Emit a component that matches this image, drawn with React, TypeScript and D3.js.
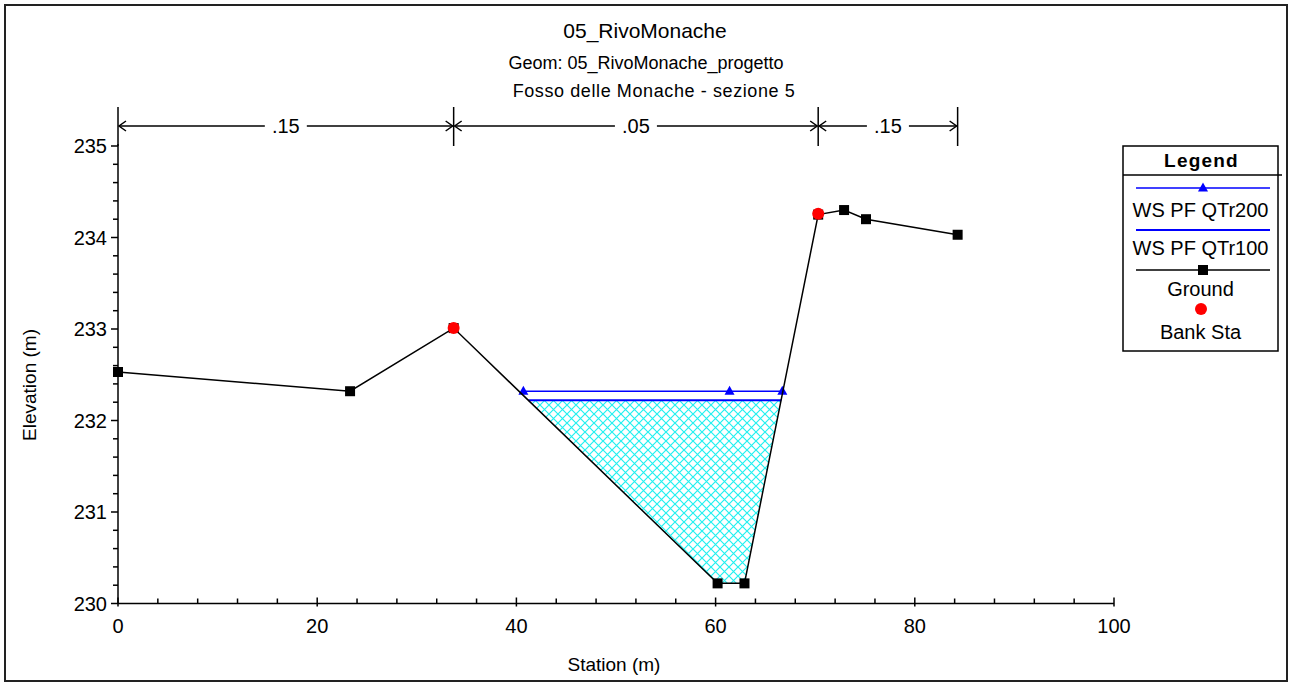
import React from "react";
import * as d3 from "d3";

const groundStation = [0, 23.3, 33.7, 60.2, 62.9, 70.3, 72.9, 75.1, 84.3];
const groundElev = [232.53, 232.32, 233.01, 230.22, 230.22, 234.25, 234.3, 234.2, 234.03];
const bankStation = [33.7, 70.3];
const bankElev = [233.01, 234.26];
const ws200Station = [40.7, 61.4, 66.7];
const ws200Elev = 232.32;
const ws100Station = [41.2, 66.6];
const ws100Elev = 232.22;
const nStations = [0, 33.7, 70.3, 84.3];
const nValues = [".15", ".05", ".15"];
const xTicks = [0, 20, 40, 60, 80, 100];
const yTicks = [230, 231, 232, 233, 234, 235];

const W = 1290;
const H = 682;
const FONT = "'Liberation Sans', Arial, sans-serif";

export default function App() {
  const x = d3.scaleLinear().domain([0, 100]).range([118, 1114]);
  const y = d3.scaleLinear().domain([230, 235]).range([603.5, 146]);

  const ground = groundStation.map((s, i) => [s, groundElev[i]] as [number, number]);
  const line = d3
    .line<[number, number]>()
    .x((d) => x(d[0]))
    .y((d) => y(d[1]));

  const fillPts: [number, number][] = [
    [ws100Station[0], ws100Elev],
    ...ground.filter((p) => p[0] > ws100Station[0] && p[0] < ws100Station[1]),
    [ws100Station[1], ws100Elev],
  ];

  const xMinor = d3.range(0, 100.001, 4).filter((v) => v % 20 !== 0);
  const yMinor = d3.range(230, 235.001, 0.2).filter((v) => Math.abs(v - Math.round(v)) > 0.01);

  const nY = 126;
  const sq = (cx: number, cy: number, k: string) => (
    <rect key={k} x={cx - 5} y={cy - 5} width={10} height={10} fill="#000" />
  );
  const tri = (cx: number, cy: number, k: string) => (
    <path key={k} d={`M${cx},${cy - 5.5} L${cx + 5},${cy + 3.5} L${cx - 5},${cy + 3.5} Z`} fill="#0000ff" />
  );

  const lx0 = 1123, lx1 = 1278, ly0 = 146, ly1 = 351;
  const lcx = (lx0 + lx1) / 2;

  return (
    <svg width={W} height={H} style={{ position: "absolute", left: 0, top: 0, background: "#fff" }} fontFamily={FONT}>
      <defs>
        <pattern id="hatch" width={9} height={9} patternUnits="userSpaceOnUse">
          <path d="M0,0 L9,9 M9,0 L0,9" stroke="#22f0f0" strokeWidth={1.2} />
        </pattern>
      </defs>
      <rect x={0} y={0} width={W} height={H} fill="#fff" />
      <rect x={5} y={5} width={1282} height={676} fill="none" stroke="#222" strokeWidth={2} />

      {/* Titles */}
      <text x={645} y={38} textAnchor="middle" fontSize={21} fill="#000">05_RivoMonache</text>
      <text x={646} y={69} textAnchor="middle" fontSize={18} fill="#000">Geom: 05_RivoMonache_progetto</text>
      <text x={654} y={97} textAnchor="middle" fontSize={18} letterSpacing={0.6} fill="#000">Fosso delle Monache - sezione 5</text>

      {/* Manning's n */}
      {nStations.map((s, i) => (
        <line key={"nv" + i} x1={x(s)} x2={x(s)} y1={107} y2={146} stroke="#000" strokeWidth={1.5} />
      ))}
      {nValues.map((v, i) => {
        const a = x(nStations[i]);
        const b = x(nStations[i + 1]);
        const m = (a + b) / 2;
        const gap = 21;
        return (
          <g key={"n" + i}>
            <line x1={a + 1} x2={m - gap} y1={nY} y2={nY} stroke="#000" strokeWidth={1.5} />
            <line x1={m + gap} x2={b - 1} y1={nY} y2={nY} stroke="#000" strokeWidth={1.5} />
            <path d={`M${a + 8},${nY - 5} L${a + 1},${nY} L${a + 8},${nY + 5}`} fill="none" stroke="#000" strokeWidth={1.5} />
            <path d={`M${b - 8},${nY - 5} L${b - 1},${nY} L${b - 8},${nY + 5}`} fill="none" stroke="#000" strokeWidth={1.5} />
            <text x={m} y={nY + 7} textAnchor="middle" fontSize={20} fill="#000">{v}</text>
          </g>
        );
      })}

      {/* Water fill */}
      <path d={line(fillPts) + "Z"} fill="url(#hatch)" stroke="none" />

      {/* WS lines */}
      <line x1={x(ws100Station[0])} x2={x(ws100Station[1])} y1={y(ws100Elev)} y2={y(ws100Elev)} stroke="#0000ff" strokeWidth={2} />
      <line x1={x(ws200Station[0])} x2={x(ws200Station[ws200Station.length - 1])} y1={y(ws200Elev)} y2={y(ws200Elev)} stroke="#0000ff" strokeWidth={1.5} />
      {ws200Station.map((s, i) => tri(x(s), y(ws200Elev), "t" + i))}

      {/* Ground */}
      <path d={line(ground) || ""} fill="none" stroke="#000" strokeWidth={1.5} />
      {ground.map((p, i) => sq(x(p[0]), y(p[1]), "g" + i))}
      {bankStation.map((s, i) => (
        <circle key={"b" + i} cx={x(s)} cy={y(bankElev[i])} r={6} fill="#ff0000" />
      ))}

      {/* Axes */}
      <line x1={x(0)} x2={x(0)} y1={y(235) - 2} y2={y(230)} stroke="#000" strokeWidth={1.5} />
      <line x1={x(0)} x2={x(100)} y1={y(230)} y2={y(230)} stroke="#000" strokeWidth={1.5} />
      {yTicks.map((t) => (
        <g key={"yt" + t}>
          <line x1={x(0) - 7} x2={x(0)} y1={y(t)} y2={y(t)} stroke="#000" strokeWidth={1.5} />
          <text x={x(0) - 11} y={y(t) + 7} textAnchor="end" fontSize={20} fill="#000">{t}</text>
        </g>
      ))}
      {yMinor.map((t, i) => (
        <line key={"ym" + i} x1={x(0) - 5} x2={x(0)} y1={y(t)} y2={y(t)} stroke="#000" strokeWidth={1.5} />
      ))}
      {xTicks.map((t) => (
        <g key={"xt" + t}>
          <line x1={x(t)} x2={x(t)} y1={y(230) - 6} y2={y(230) + 3} stroke="#000" strokeWidth={1.5} />
          <text x={x(t)} y={y(230) + 29} textAnchor="middle" fontSize={20} fill="#000">{t}</text>
        </g>
      ))}
      {xMinor.map((t, i) => (
        <line key={"xm" + i} x1={x(t)} x2={x(t)} y1={y(230) - 5} y2={y(230)} stroke="#000" strokeWidth={1.5} />
      ))}
      <text x={614} y={671} textAnchor="middle" fontSize={19} fill="#000">Station (m)</text>
      <text transform={`translate(36,385) rotate(-90)`} textAnchor="middle" fontSize={19} fill="#000">Elevation (m)</text>

      {/* Legend */}
      <rect x={lx0} y={ly0} width={lx1 - lx0} height={ly1 - ly0} fill="#fff" stroke="#000" strokeWidth={1.5} />
      <line x1={lx0} x2={1282} y1={175} y2={175} stroke="#000" strokeWidth={1.5} />
      <text x={lcx + 1} y={167} textAnchor="middle" fontSize={19} fontWeight="bold" letterSpacing={1.2} fill="#000">Legend</text>
      <line x1={1136} x2={1270} y1={188} y2={188} stroke="#0000ff" strokeWidth={1.5} />
      {tri(1203, 188, "lt")}
      <text x={lcx} y={217} textAnchor="middle" fontSize={20} fill="#000">WS PF QTr200</text>
      <line x1={1136} x2={1270} y1={230} y2={230} stroke="#0000ff" strokeWidth={2} />
      <text x={lcx} y={255} textAnchor="middle" fontSize={20} fill="#000">WS PF QTr100</text>
      <line x1={1136} x2={1270} y1={270} y2={270} stroke="#000" strokeWidth={1.5} />
      {sq(1203, 270, "lg")}
      <text x={lcx} y={296} textAnchor="middle" fontSize={20} fill="#000">Ground</text>
      <circle cx={1201} cy={309} r={6} fill="#ff0000" />
      <text x={lcx} y={339} textAnchor="middle" fontSize={20} fill="#000">Bank Sta</text>
    </svg>
  );
}
